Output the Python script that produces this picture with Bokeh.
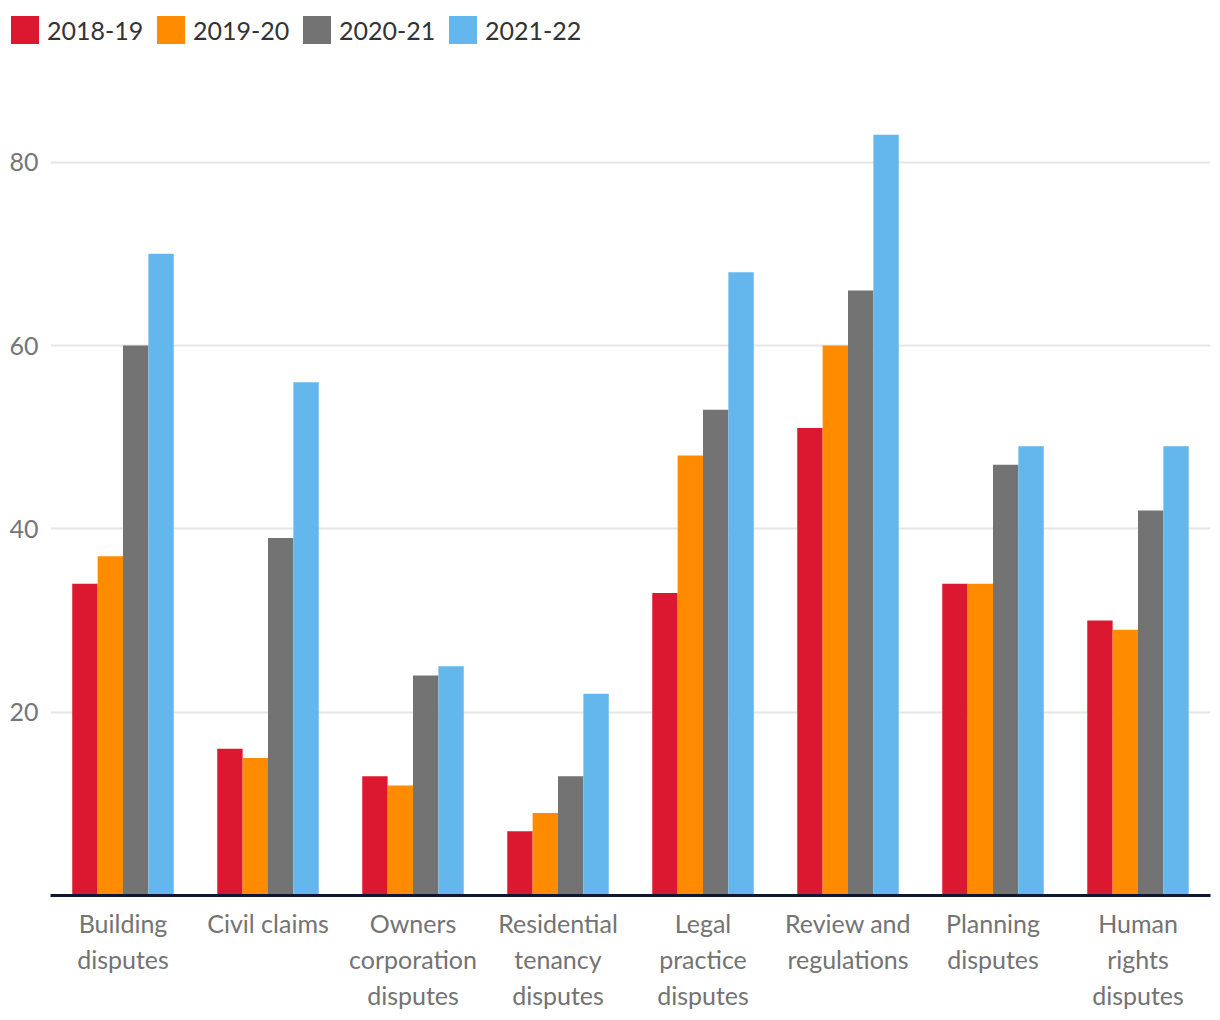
from bokeh.plotting import figure
from bokeh.models import FactorRange, FixedTicker, Legend, LegendItem, ColumnDataSource
from bokeh.transform import dodge
from bokeh.embed import file_html
from bokeh.resources import INLINE

categories = ["Building\ndisputes", "Civil claims", "Owners\ncorporation\ndisputes",
              "Residential\ntenancy\ndisputes", "Legal\npractice\ndisputes",
              "Review and\nregulations", "Planning\ndisputes", "Human\nrights\ndisputes"]
series_names = ["2018-19", "2019-20", "2020-21", "2021-22"]
v2018 = [34, 16, 13, 7, 33, 51, 34, 30]
v2019 = [37, 15, 12, 9, 48, 60, 34, 29]
v2020 = [60, 39, 24, 13, 53, 66, 47, 42]
v2021 = [70, 56, 25, 22, 68, 83, 49, 49]
y_ticks = [20, 40, 60, 80]

colors = ["#dc1830", "#ff8c00", "#737373", "#63b7ec"]
FONT = "Lato"
FS = "25px"

src = ColumnDataSource(dict(cat=categories, a=v2018, b=v2019, c=v2020, d=v2021))

# ---- main chart ----
p = figure(width=1220, height=950, x_range=FactorRange(*categories, range_padding=0),
           y_range=(0, 90), output_backend="svg", toolbar_location=None,
           min_border_left=50, min_border_right=10, min_border_top=0, min_border_bottom=125)
p.x_range.range_padding = 0

bw = 0.175
offsets = [-1.5 * bw, -0.5 * bw, 0.5 * bw, 1.5 * bw]
for key, off, col in zip(["a", "b", "c", "d"], offsets, colors):
    p.vbar(x=dodge("cat", off, range=p.x_range), top=key, width=bw, source=src,
           fill_color=col, line_color=None)

p.outline_line_color = None
p.background_fill_color = "white"
p.border_fill_color = "white"
p.xgrid.grid_line_color = None
p.ygrid.grid_line_color = "#e6e6e6"
p.ygrid.grid_line_width = 2

p.yaxis.ticker = FixedTicker(ticks=y_ticks)
p.yaxis.axis_line_color = None
p.yaxis.major_tick_line_color = None
p.yaxis.minor_tick_line_color = None
p.yaxis.major_label_text_font = FONT
p.yaxis.major_label_text_font_size = FS
p.yaxis.major_label_text_color = "#757575"
p.yaxis.major_label_standoff = 6

p.xaxis.axis_line_color = "#0d1733"
p.xaxis.axis_line_width = 3
p.xaxis.major_tick_line_color = None
p.xaxis.minor_tick_line_color = None
p.xaxis.major_label_text_font = FONT
p.xaxis.major_label_text_font_size = FS
p.xaxis.major_label_text_color = "#737373"
p.xaxis.major_label_standoff = 6

# ---- legend strip ----
lg = figure(width=1220, height=70, x_range=(0, 1), y_range=(0, 1),
            output_backend="svg", toolbar_location=None,
            x_axis_location=None, y_axis_location=None,
            min_border=0, min_border_left=0, min_border_right=0,
            min_border_top=0, min_border_bottom=0)
lg.grid.grid_line_color = None
lg.outline_line_color = None
lg.background_fill_color = "white"
lg.border_fill_color = "white"
dummy = ColumnDataSource(dict(x=[0.5], top=[0]))
items = []
for name, col in zip(series_names, colors):
    r = lg.vbar(x="x", top="top", width=0.0, source=dummy, fill_color=col, line_color=None)
    items.append(LegendItem(label=name, renderers=[r]))

legend = Legend(items=items, orientation="horizontal", location=(7, 23),
                glyph_width=35, glyph_height=35, label_standoff=5, spacing=6,
                label_width=100, padding=0, margin=0,
                label_text_font=FONT, label_text_font_size=FS,
                label_text_color="#333333", border_line_color=None,
                background_fill_alpha=0)
lg.add_layout(legend)

open("out.html", "w").write(file_html([lg, p], INLINE))
